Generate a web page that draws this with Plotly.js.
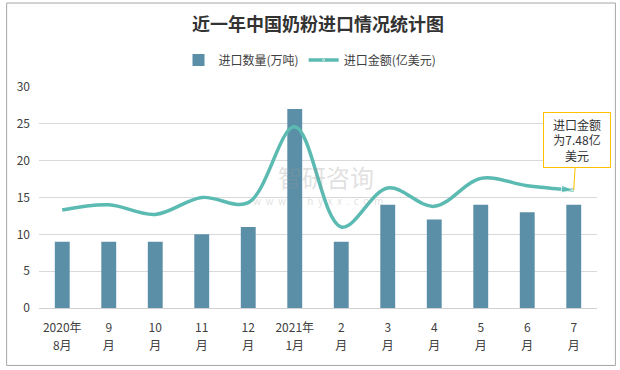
<!DOCTYPE html>
<html><head><meta charset="utf-8">
<script src="https://cdn.plot.ly/plotly-3.0.1.min.js"></script>
<style>body{margin:0;background:#fff}#c{width:620px;height:370px}</style>
</head><body><div id="c"></div>
<script>
var labelLine1 = ['2020年','9','10','11','12','2021年','2','3','4','5','6','7'];
var labelLine2 = ['8月','月','月','月','月','1月','月','月','月','月','月','月'];
var importVolume = [9, 9, 9, 10, 11, 27, 9, 14, 12, 14, 13, 14];
var importValue = [13.3, 14.0, 12.7, 15.0, 14.3, 24.6, 11.0, 16.3, 13.8, 17.6, 16.6, 16.0];
var yTicks = [0, 5, 10, 15, 20, 25, 30];

var n = labelLine1.length;
var idx = labelLine1.map(function(v,i){return i;});
var symbols = importValue.map(function(v,i){return i===n-1?'arrow':'circle';});
var sizes = importValue.map(function(v,i){return i===0?11:(i===n-1?13:0);});

var font = 'Noto Sans CJK SC, Microsoft YaHei, sans-serif';
var data = [
  {type:'bar', x:idx, y:importVolume, name:'进口数量(万吨)',
   marker:{color:'#5b8fa7'}, hoverinfo:'y'},
  {type:'scatter', mode:'lines+markers', x:idx, y:importValue, name:'进口金额(亿美元)',
   line:{color:'#5bbab1', width:3.5, shape:'spline', smoothing:1},
   marker:{color:'#5bbab1', symbol:symbols, size:sizes, angleref:'previous'}},
  {type:'scatter', mode:'markers', x:idx, y:importVolume, xaxis:'x2', yaxis:'y',
   marker:{opacity:0, size:1}, showlegend:false, hoverinfo:'skip'}
];
var layout = {
  width:620, height:370,
  margin:{l:39, r:23, t:87, b:62},
  paper_bgcolor:'#fff', plot_bgcolor:'#fff',
  font:{family:font, size:12, color:'#404040'},
  title:{text:'<b>近一年中国奶粉进口情况统计图</b>', x:0.5, xref:'paper', xanchor:'center', y:0.932, yanchor:'middle', font:{size:18, color:'#333', family:font}},
  showlegend:true,
  legend:{orientation:'h', x:0.5, xanchor:'center', xref:'container', y:0.838, yref:'container', yanchor:'middle', font:{size:12, color:'#404040'}, itemwidth:30, traceorder:'normal'},
  bargap:0.68,
  xaxis:{range:[-0.5, n-0.5], tickvals:idx, ticktext:labelLine1, showline:true, linecolor:'#d0d0d0', linewidth:1, ticks:'', tickfont:{size:12, color:'#404040'}, ticklabelstandoff:9, showgrid:false, zeroline:false, fixedrange:true},
  xaxis2:{overlaying:'x', anchor:'y', side:'bottom', range:[-0.5, n-0.5], tickvals:idx, ticktext:labelLine2, showline:false, ticks:'', tickfont:{size:12, color:'#404040'}, ticklabelstandoff:29, showgrid:false, zeroline:false},
  yaxis:{range:[0,30], tickvals:yTicks, showgrid:true, gridcolor:'#d9d9d9', gridwidth:1, zeroline:false, showline:false, ticks:'', tickfont:{size:12, color:'#404040'}, ticklabelstandoff:8},
  shapes:[
    {type:'rect', xref:'paper', yref:'paper', x0:-0.058, x1:1.033, y0:-0.26, y1:1.38, line:{color:'#a6a6a6', width:1}, fillcolor:'rgba(0,0,0,0)', layer:'below'}
  ],
  annotations:[
    {x:n-1, y:importValue[n-1], xref:'x', yref:'y', text:'进口金额<br>为7.48亿<br>美元', showarrow:true, arrowhead:0, arrowcolor:'#ffc000', arrowwidth:1, ax:3, ay:-50, bordercolor:'#ffc000', borderwidth:1, borderpad:2, bgcolor:'#fff', font:{size:12, color:'#333'}, align:'center', width:62, height:50},
    {x:0.514, y:0.595, xref:'paper', yref:'paper', text:'智研咨询', showarrow:false, font:{size:24, color:'rgba(150,150,150,0.3)'}, xanchor:'center', yanchor:'middle'},
    {x:0.5, y:0.485, xref:'paper', yref:'paper', text:'w  w  w  .  c  h  y  x  x  .  c  o  m', showarrow:false, font:{size:10, color:'rgba(150,150,150,0.3)'}, xanchor:'center', yanchor:'middle'}
  ]
};
Plotly.newPlot('c', data, layout, {displayModeBar:false, staticPlot:true});
</script></body></html>
